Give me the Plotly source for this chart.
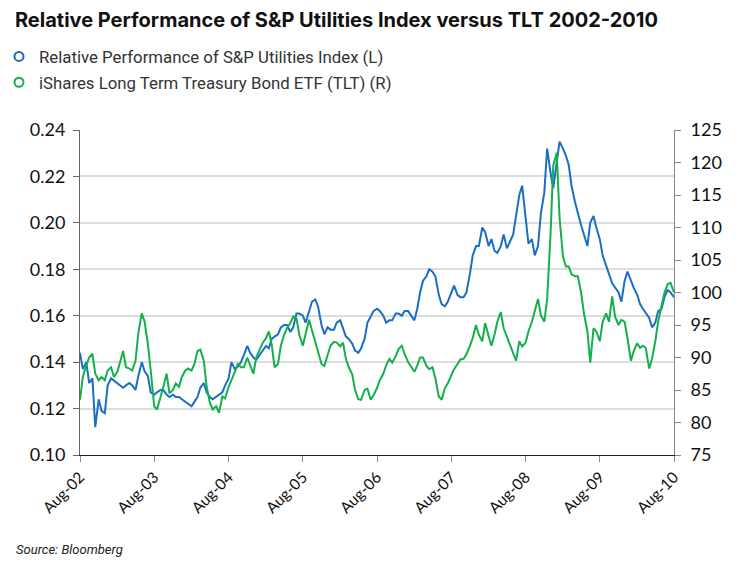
import pandas as pd
import plotly.graph_objects as go

# Semi-monthly observation dates, Aug-2002 .. Aug-2010
dates = pd.date_range("2002-08-01", "2010-08-01", freq="SMS")

utilities_rel = [
    0.144, 0.137, 0.140, 0.131, 0.133, 0.112, 0.124, 0.119, 0.118, 0.130,
    0.133, 0.132, 0.131, 0.130, 0.129, 0.130, 0.131, 0.130, 0.128, 0.134,
    0.140, 0.136, 0.134, 0.127, 0.126, 0.127, 0.128, 0.128, 0.126, 0.125,
    0.126, 0.125, 0.125, 0.124, 0.123, 0.122, 0.121, 0.123, 0.125, 0.129,
    0.131, 0.127, 0.125, 0.124, 0.125, 0.126, 0.127, 0.130, 0.133, 0.140,
    0.137, 0.138, 0.140, 0.143, 0.147, 0.144, 0.142, 0.141, 0.143, 0.145,
    0.147, 0.146, 0.150, 0.151, 0.152, 0.155, 0.156, 0.156, 0.153, 0.155,
    0.161, 0.161, 0.160, 0.157, 0.162, 0.166, 0.167, 0.164, 0.156, 0.152,
    0.155, 0.154, 0.154, 0.157, 0.158, 0.154, 0.151, 0.150, 0.148, 0.145,
    0.144, 0.146, 0.150, 0.157, 0.160, 0.162, 0.163, 0.162, 0.160, 0.157,
    0.158, 0.158, 0.161, 0.161, 0.160, 0.162, 0.162, 0.160, 0.158, 0.163,
    0.170, 0.175, 0.177, 0.180, 0.179, 0.177, 0.169, 0.165, 0.164, 0.166,
    0.170, 0.173, 0.169, 0.168, 0.168, 0.170, 0.178, 0.186, 0.190, 0.190,
    0.198, 0.196, 0.190, 0.193, 0.188, 0.187, 0.190, 0.195, 0.189, 0.192,
    0.195, 0.203, 0.212, 0.216, 0.201, 0.191, 0.193, 0.186, 0.190, 0.204,
    0.213, 0.232, 0.222, 0.215, 0.226, 0.235, 0.232, 0.229, 0.225, 0.216,
    0.209, 0.204, 0.199, 0.195, 0.190, 0.200, 0.203, 0.198, 0.193, 0.186,
    0.182, 0.178, 0.174, 0.172, 0.170, 0.166, 0.175, 0.179, 0.175, 0.172,
    0.169, 0.165, 0.163, 0.161, 0.159, 0.155, 0.157, 0.162, 0.163, 0.168,
    0.171, 0.170, 0.168,
]

tlt = [
    83.5, 87.0, 88.8, 90.0, 90.6, 87.5, 86.5, 87.0, 86.5, 88.0,
    88.5, 87.0, 87.8, 89.5, 91.0, 88.5, 88.3, 88.0, 89.5, 93.8,
    96.8, 95.5, 92.0, 88.0, 82.5, 82.0, 83.8, 85.5, 87.5, 84.5,
    85.0, 86.0, 85.5, 87.0, 88.0, 88.3, 88.0, 89.0, 91.0, 91.2,
    89.5, 85.5, 83.0, 82.0, 82.5, 81.5, 84.0, 83.7, 85.5, 86.5,
    87.8, 89.0, 88.5, 88.5, 90.0, 88.8, 87.5, 90.0, 91.3, 92.2,
    93.0, 94.0, 92.0, 88.5, 89.0, 91.8, 93.5, 94.5, 95.3, 96.3,
    96.0, 93.5, 91.8, 93.5, 95.8, 94.2, 92.5, 91.0, 89.0, 88.7,
    90.5, 91.8, 92.4, 92.3, 91.7, 92.3, 89.8, 88.5, 87.4, 85.0,
    83.6, 83.5, 85.0, 85.2, 83.5, 84.2, 85.3, 86.5, 87.5, 88.8,
    89.8, 89.2, 90.2, 91.3, 91.8, 90.5, 89.3, 88.7, 87.8, 88.8,
    90.0, 90.0, 88.7, 88.2, 88.5, 86.8, 84.0, 83.5, 85.3, 86.0,
    87.3, 88.2, 89.0, 89.7, 89.8, 90.5, 91.8, 93.0, 95.0, 93.5,
    92.5, 95.3, 93.3, 91.8, 93.5, 95.5, 97.0, 94.5, 93.2, 92.0,
    90.8, 89.5, 92.5, 91.7, 92.3, 94.0, 95.5, 97.2, 99.0, 96.5,
    95.5, 99.0, 108.5, 119.5, 121.5, 111.5, 105.5, 104.0, 104.0, 102.8,
    102.5, 102.5, 100.0, 96.8, 94.0, 89.2, 94.5, 94.0, 92.5, 95.5,
    96.8, 95.5, 99.4, 96.3, 95.0, 95.8, 95.5, 93.0, 89.5, 91.0,
    92.2, 91.5, 91.8, 91.5, 88.3, 89.8, 92.5, 95.5, 98.3, 100.0,
    101.3, 101.5, 100.0,
]

tick_dates = ["2002-08-01", "2003-08-01", "2004-08-01", "2005-08-01", "2006-08-01",
              "2007-08-01", "2008-08-01", "2009-08-01", "2010-08-01"]
tick_labels = ["Aug-02", "Aug-03", "Aug-04", "Aug-05", "Aug-06",
               "Aug-07", "Aug-08", "Aug-09", "Aug-10"]

name_l = "Relative Performance of S&P Utilities Index (L)"
name_r = "iShares Long Term Treasury Bond ETF (TLT) (R)"
BLUE = "#1a6fc4"
GREEN = "#13b04b"

fig = go.Figure()
fig.add_trace(go.Scatter(x=dates, y=tlt, mode="lines", yaxis="y2",
                         line=dict(color=GREEN, width=2), showlegend=False))
fig.add_trace(go.Scatter(x=dates, y=utilities_rel, mode="lines", yaxis="y",
                         line=dict(color=BLUE, width=2), showlegend=False))
# legend entries (open circles)
fig.add_trace(go.Scatter(x=[None], y=[None], mode="markers", name=name_l, legendgroup="a",
                         marker=dict(symbol="circle-open", color=BLUE, size=9,
                                     line=dict(width=2, color=BLUE))))
fig.add_trace(go.Scatter(x=[None], y=[None], mode="markers", name=name_r, legendgroup="b",
                         marker=dict(symbol="circle-open", color=GREEN, size=9,
                                     line=dict(width=2, color=GREEN))))

tick_font = dict(family="Lato, sans-serif", size=18, color="#111111")

# page body adds an 8px offset, so the figure is 742x560 and positioned accordingly
fig.update_layout(
    width=742, height=560,
    margin=dict(l=72, r=76, t=122, b=113, autoexpand=False),
    paper_bgcolor="white", plot_bgcolor="white",
    title=dict(text="<b>Relative Performance of S&P Utilities Index versus TLT 2002-2010</b>",
               x=0.0094, xanchor="left", y=0.979, yanchor="middle",
               font=dict(family="Inter, Roboto, sans-serif", size=20, color="#111111")),
    legend=dict(x=-0.1364, y=1.28, xanchor="left", yanchor="top",
                font=dict(family="Roboto, sans-serif", size=16.8, color="#333333"),
                traceorder="grouped", tracegroupgap=1, itemwidth=30,
                bgcolor="rgba(0,0,0,0)"),
    xaxis=dict(type="date", range=["2002-08-01", "2010-08-01"],
               tickvals=tick_dates, ticktext=tick_labels, tickangle=-45,
               tickfont=dict(family="Lato, sans-serif", size=15.5, color="#111111"),
               showgrid=False, showline=True, linecolor="#222222", linewidth=1.2,
               ticks="outside", ticklen=6, tickcolor="#888888", zeroline=False),
    yaxis=dict(range=[0.10, 0.24], dtick=0.02, tickformat=".2f", tickfont=tick_font,
               showgrid=True, gridcolor="#dddddd", gridwidth=1.5,
               showline=True, linecolor="#666666", linewidth=1,
               ticks="outside", ticklen=6, tickcolor="#666666", zeroline=False,
               ticklabelstandoff=4),
    yaxis2=dict(range=[75, 125], dtick=5, overlaying="y", side="right", tickfont=tick_font,
                showgrid=False, showline=True, linecolor="#888888", linewidth=1,
                ticks="outside", ticklen=6, tickcolor="#888888", zeroline=False,
                ticklabelstandoff=6),
    annotations=[dict(text="<i>Source: Bloomberg</i>", xref="paper", yref="paper",
                      x=-0.111, y=-0.292, xanchor="left", yanchor="middle", showarrow=False,
                      font=dict(family="Roboto, sans-serif", size=13, color="#222222"))],
)

fig.write_html("out.html")
